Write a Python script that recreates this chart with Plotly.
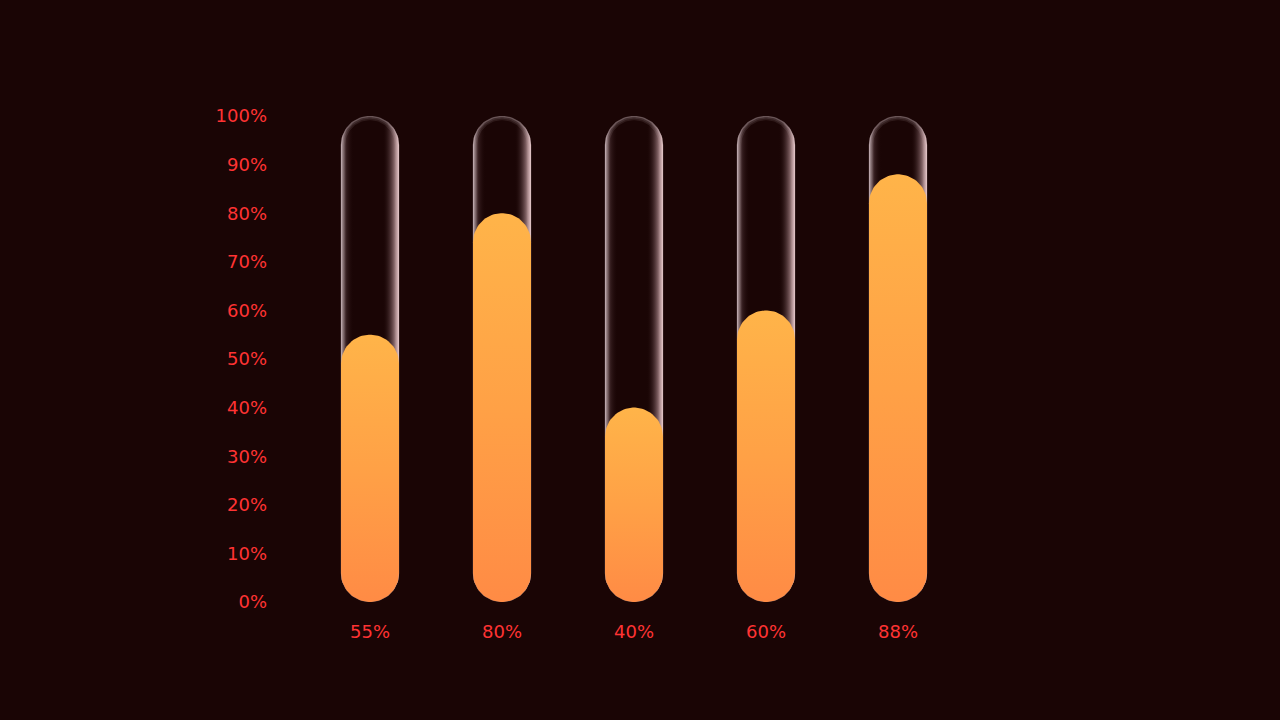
import numpy as np
import plotly.graph_objects as go

# data
values = [55, 80, 40, 60, 88]
x_pos = [0, 1, 2, 3, 4]
y_ticks = [0, 10, 20, 30, 40, 50, 60, 70, 80, 90, 100]

BG = "#1a0505"
RED = "#ff3333"

W, H = 1280, 720
M_L, M_R, M_T, M_B = 304, 316, 116, 118
X_RANGE = (-0.5, 4.5)
Y_RANGE = (0, 100)
PX_X = (W - M_L - M_R) / (X_RANGE[1] - X_RANGE[0])
PX_Y = (H - M_T - M_B) / (Y_RANGE[1] - Y_RANGE[0])

BAR_PX = 58


def stadium(cx, y0, y1, width_px, inset_px=0.0, n=40):
    """Closed pill outline in data units, round ends in screen pixels."""
    r = width_px / 2 - inset_px
    rx, ry = r / PX_X, r / PX_Y
    y0 = y0 + inset_px / PX_Y
    y1 = y1 - inset_px / PX_Y
    t_top = np.linspace(0, np.pi, n)
    t_bot = np.linspace(np.pi, 2 * np.pi, n)
    xs = np.concatenate([cx + rx * np.cos(t_top), cx + rx * np.cos(t_bot)])
    ys = np.concatenate([y1 - ry + ry * np.sin(t_top), y0 + ry + ry * np.sin(t_bot)])
    return np.append(xs, xs[0]), np.append(ys, ys[0])


fig = go.Figure()

for cx, v in zip(x_pos, values):
    # glass tube
    tx, ty = stadium(cx, 0, 100, BAR_PX)
    fig.add_trace(go.Scatter(
        x=tx, y=ty, mode="lines", fill="toself", line=dict(width=0),
        fillgradient=dict(type="horizontal", colorscale=[
            [0, "rgba(225,205,210,0.75)"],
            [0.1, "rgba(120,90,95,0.25)"],
            [0.22, "rgba(26,5,5,0)"],
            [0.72, "rgba(26,5,5,0)"],
            [0.9, "rgba(220,180,185,0.45)"],
            [1, "rgba(255,215,215,0.9)"],
        ]),
        hoverinfo="skip", showlegend=False,
    ))
    for inset, alpha in [(0.5, 0.4), (2, 0.2), (3.5, 0.1)]:
        ox, oy = stadium(cx, 0, 100, BAR_PX, inset)
        fig.add_trace(go.Scatter(
            x=ox, y=oy, mode="lines",
            line=dict(width=1.5, color=f"rgba(225,205,210,{alpha})"),
            hoverinfo="skip", showlegend=False,
        ))
    # value bar
    bx, by = stadium(cx, 0, v, BAR_PX)
    fig.add_trace(go.Scatter(
        x=bx, y=by, mode="lines", fill="toself", line=dict(width=0),
        fillgradient=dict(type="vertical", colorscale=[
            [0, "#ff8b45"], [0.5, "#ffa146"], [1, "#ffb449"],
        ]),
        hoverinfo="skip", showlegend=False,
    ))

fig.update_layout(
    width=W, height=H,
    margin=dict(l=M_L, r=M_R, t=M_T, b=M_B),
    paper_bgcolor=BG, plot_bgcolor=BG,
    font=dict(family="DejaVu Sans", size=18, color=RED),
    xaxis=dict(
        range=list(X_RANGE), tickvals=x_pos, ticktext=[f"{v}%" for v in values],
        showgrid=False, zeroline=False, showline=False, ticks="",
        ticklabelstandoff=17, fixedrange=True,
    ),
    yaxis=dict(
        range=list(Y_RANGE), tickvals=y_ticks, ticktext=[f"{t}%" for t in y_ticks],
        showgrid=False, zeroline=False, showline=False, ticks="",
        ticklabelstandoff=36, fixedrange=True,
    ),
)

fig.write_html(
    "out.html",
    config={"displayModeBar": False},
    post_script="document.body.style.margin='0';"
                "document.body.style.background='" + BG + "';",
)
